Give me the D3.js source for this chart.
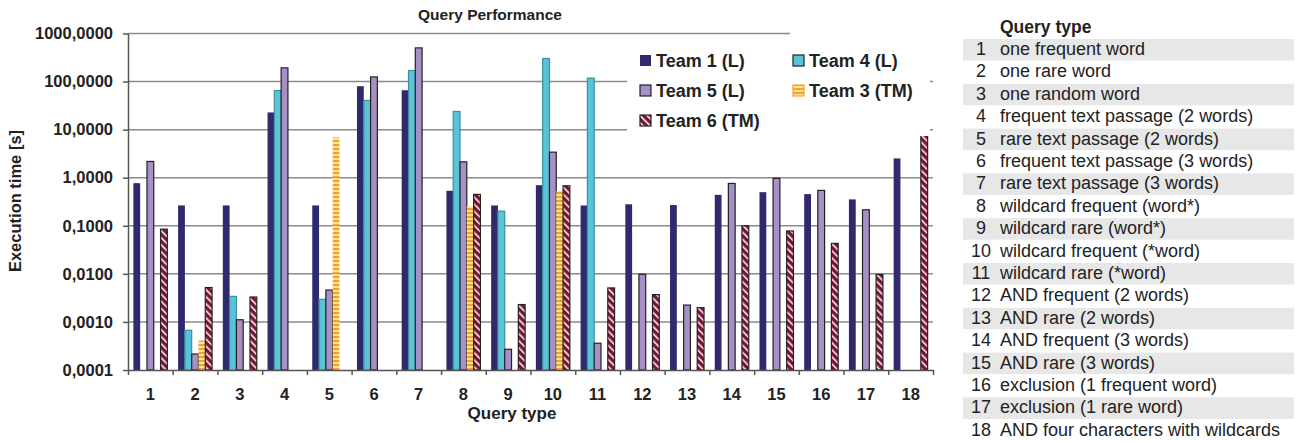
<!DOCTYPE html>
<html>
<head>
<meta charset="utf-8">
<script src="https://cdn.jsdelivr.net/npm/d3@7"></script>
<style>
  body { margin: 0; background: #fff; }
  svg { font-family: "Liberation Sans", Arial, sans-serif; display: block; }
</style>
</head>
<body>
<div id="chart"></div>
<script>
// query types 1..18
const categories = d3.range(1, 19);
const queryNames = [
  "one frequent word", "one rare word", "one random word",
  "frequent text passage (2 words)", "rare text passage (2 words)",
  "frequent text passage (3 words)", "rare text passage (3 words)",
  "wildcard frequent (word*)", "wildcard rare (word*)",
  "wildcard frequent (*word)", "wildcard rare (*word)",
  "AND frequent (2 words)", "AND rare (2 words)", "AND frequent (3 words)",
  "AND rare (3 words)", "exclusion (1 frequent word)", "exclusion (1 rare word)",
  "AND four characters with wildcards"
];

// execution times in seconds (null = no result)
const team1 = [0.77, 0.265, 0.265, 22.8, 0.265, 80, 66, 0.535, 0.265, 0.70, 0.265, 0.28, 0.27, 0.44, 0.50, 0.456, 0.354, 2.52];
const team4 = [null, 0.00067, 0.0034, 65, 0.00295, 40.5, 170, 23.9, 0.202, 302, 118, null, null, null, null, null, null, null];
const team5 = [2.18, 0.000215, 0.00111, 193, 0.0046, 125, 502, 2.14, 0.00027, 3.4, 0.00036, 0.0098, 0.00224, 0.76, 0.97, 0.545, 0.215, null];
const team3 = [null, 0.00041, null, null, 6.9, null, null, 0.257, null, 0.526, null, null, null, null, null, null, null, null];
const team6 = [0.085, 0.0052, 0.0033, null, null, null, null, 0.45, 0.0023, 0.68, 0.0051, 0.0037, 0.00198, 0.1, 0.078, 0.043, 0.0097, 8.6];

const yTicks = [0.0001, 0.001, 0.01, 0.1, 1, 10, 100, 1000];

const series = [
  { name: "Team 1 (L)", values: team1, fill: "#2f2a6e", stroke: "none" },
  { name: "Team 4 (L)", values: team4, fill: "#57c4d7", stroke: "#3d8f9f" },
  { name: "Team 5 (L)", values: team5, fill: "#a690c6", stroke: "#222" },
  { name: "Team 3 (TM)", values: team3, fill: "url(#stripeH)", stroke: "none" },
  { name: "Team 6 (TM)", values: team6, fill: "url(#stripeD)", stroke: "#222" }
];

const width = 1300, height = 441;
const plotLeft = 128, plotRight = 933, plotTop = 33.5, plotBottom = 370;

const svg = d3.select("#chart").append("svg")
  .attr("width", width).attr("height", height);

// PATTERNS
const defs = svg.append("defs");
const ph = defs.append("pattern").attr("id", "stripeH")
  .attr("patternUnits", "userSpaceOnUse").attr("width", 4).attr("height", 4);
ph.append("rect").attr("width", 4).attr("height", 4).attr("fill", "#fde58a");
ph.append("rect").attr("width", 4).attr("height", 2).attr("fill", "#f59f35");

const pd = defs.append("pattern").attr("id", "stripeD")
  .attr("patternUnits", "userSpaceOnUse").attr("width", 5).attr("height", 5)
  .attr("patternTransform", "rotate(-45)");
pd.append("rect").attr("width", 5).attr("height", 5).attr("fill", "#7b1434");
pd.append("rect").attr("width", 1.6).attr("height", 5).attr("fill", "#f4eef0");

// SCALES
const x = d3.scaleLinear().domain([0, 18]).range([plotLeft, plotRight]);
const y = d3.scaleLog().domain([0.0001, 1000]).range([plotBottom, plotTop]);
const fmt = d3.formatLocale({ decimal: ",", thousands: ".", grouping: [3], currency: ["", ""] }).format(".4f");

// GRIDLINES
svg.append("g").selectAll("line")
  .data(yTicks.slice(1))
  .join("line")
  .attr("x1", plotLeft)
  .attr("x2", d => d === 1000 ? 790 : plotRight)
  .attr("y1", d => y(d)).attr("y2", d => y(d))
  .attr("stroke", "#8a8a8a").attr("stroke-width", 1.5);

// BARS
const groupInset = 0.12, groupFrac = 0.76;
series.forEach((s, si) => {
  svg.append("g").selectAll("rect")
    .data(s.values.map((v, i) => ({ v, i })).filter(d => d.v != null))
    .join("rect")
    .attr("x", d => {
      const bw = x(d.i + 1) - x(d.i);
      return x(d.i) + bw * groupInset + si * bw * groupFrac / 5;
    })
    .attr("width", d => (x(d.i + 1) - x(d.i)) * groupFrac / 5)
    .attr("y", d => y(d.v))
    .attr("height", d => plotBottom - y(d.v))
    .attr("fill", s.fill)
    .attr("stroke", s.stroke)
    .attr("stroke-width", s.stroke === "none" ? 0 : 1.2);
});

// AXES
const yAxis = svg.append("g")
  .attr("transform", `translate(${plotLeft},0)`)
  .call(d3.axisLeft(y).tickValues(yTicks).tickFormat(fmt).tickSizeInner(5).tickSizeOuter(0).tickPadding(10));
yAxis.selectAll("text").attr("font-size", 16.5).attr("font-weight", "bold")
  .attr("font-family", "Liberation Sans, Arial, sans-serif").attr("fill", "#222");

const xAxis = svg.append("g")
  .attr("transform", `translate(0,${plotBottom})`)
  .call(d3.axisBottom(x).tickValues(d3.range(0, 19)).tickFormat("").tickSizeInner(5).tickSizeOuter(0));

[yAxis, xAxis].forEach(a => {
  a.select(".domain").attr("stroke", "#555").attr("stroke-width", 1.5);
  a.selectAll(".tick line").attr("stroke", "#555").attr("stroke-width", 1.5);
});

svg.append("g").selectAll("text")
  .data(categories)
  .join("text")
  .attr("x", (d, i) => (x(i) + x(i + 1)) / 2)
  .attr("y", 400)
  .attr("text-anchor", "middle")
  .attr("font-size", 16.5).attr("font-weight", "bold").attr("fill", "#222")
  .text(d => d);

svg.append("text")
  .attr("x", 512).attr("y", 419)
  .attr("text-anchor", "middle")
  .attr("font-size", 17).attr("font-weight", "bold").attr("fill", "#222")
  .text("Query type");

svg.append("text")
  .attr("transform", "translate(21,201) rotate(-90)")
  .attr("text-anchor", "middle")
  .attr("font-size", 16.5).attr("font-weight", "bold").attr("fill", "#222")
  .text("Execution time [s]");

svg.append("text")
  .attr("x", 490).attr("y", 20)
  .attr("text-anchor", "middle")
  .attr("font-size", 15.5).attr("font-weight", "bold").attr("fill", "#222")
  .text("Query Performance");

// LEGEND
svg.append("rect")
  .attr("x", 627).attr("y", 36).attr("width", 303).attr("height", 100)
  .attr("fill", "#fff");

const legend = svg.append("g");
series.forEach((s, k) => {
  const lx = k % 2 === 0 ? 640 : 793;
  const ly = 67 + Math.floor(k / 2) * 30;
  legend.append("rect")
    .attr("x", lx).attr("y", ly - 12).attr("width", 11).attr("height", 11)
    .attr("fill", s.fill)
    .attr("stroke", k === 0 ? "none" : (k === 3 ? "#f59f35" : "#222"))
    .attr("stroke-width", 1.2);
  legend.append("text")
    .attr("x", lx + 16).attr("y", ly)
    .attr("font-size", 18).attr("font-weight", "bold").attr("fill", "#222")
    .text(s.name);
});

// QUERY TYPE TABLE
const rowPitch = 22.4, row0 = 55;
const table = svg.append("g");
table.append("text")
  .attr("x", 1000).attr("y", 33)
  .attr("font-size", 17.5).attr("font-weight", "bold").attr("fill", "#222")
  .text("Query type");
table.selectAll("rect")
  .data(categories.filter(d => d % 2 === 1))
  .join("rect")
  .attr("x", 963).attr("width", 331)
  .attr("y", d => row0 + (d - 1) * rowPitch - 16)
  .attr("height", 21.5)
  .attr("fill", "#e7e7e7");
table.selectAll("text.num")
  .data(categories)
  .join("text").attr("class", "num")
  .attr("x", 981).attr("y", (d, i) => row0 + i * rowPitch)
  .attr("text-anchor", "middle")
  .attr("font-size", 18).attr("fill", "#222")
  .text(d => d);
table.selectAll("text.name")
  .data(queryNames)
  .join("text").attr("class", "name")
  .attr("x", 1000).attr("y", (d, i) => row0 + i * rowPitch)
  .attr("font-size", 18).attr("fill", "#222")
  .text(d => d);
</script>
</body>
</html>
